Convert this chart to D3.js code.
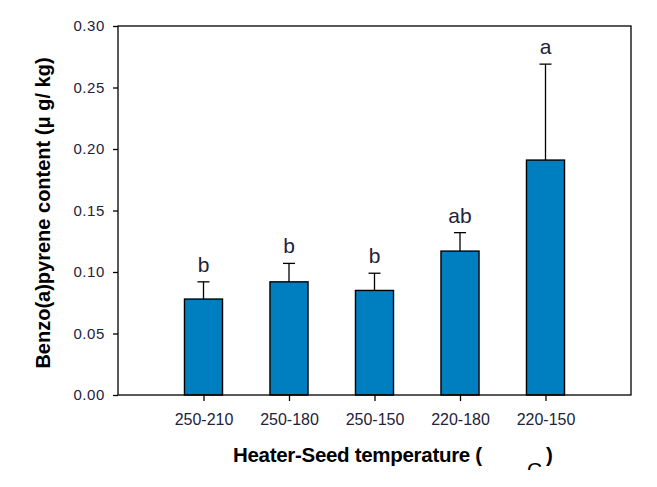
<!DOCTYPE html>
<html><head><meta charset="utf-8">
<script src="https://cdn.jsdelivr.net/npm/d3@7"></script>
<style>body{margin:0;background:#fff}svg{display:block}text{font-family:"Liberation Sans",Arial,sans-serif}</style>
</head><body><svg id="c" width="657" height="487"></svg>
<script>
const categories = ["250-210","250-180","250-150","220-180","220-150"];
const means = [0.078, 0.092, 0.085, 0.117, 0.191];
const errors = [0.014, 0.015, 0.014, 0.015, 0.078];
const letters = ["b","b","b","ab","a"];
const yTicks = [0, 0.05, 0.10, 0.15, 0.20, 0.25, 0.30];

const svg = d3.select("#c");
const L = 118, R = 631, T = 26, B = 395;
const x = d3.scaleLinear().domain([0, 6]).range([L, R]);
const y = d3.scaleLinear().domain([0, 0.30]).range([B, T]);
const bw = x(0.445) - x(0);
const data = categories.map((c, i) => ({c, i: i + 1, m: means[i], e: errors[i], l: letters[i]}));

// bars
svg.selectAll("rect.bar").data(data).enter().append("rect")
  .attr("x", d => x(d.i) - bw / 2).attr("y", d => y(d.m))
  .attr("width", bw).attr("height", d => y(0) - y(d.m))
  .attr("fill", "#007fc0").attr("stroke", "#000").attr("stroke-width", 1.4);

// error bars
const eb = svg.append("g").attr("stroke", "#000").attr("stroke-width", 1.3);
data.forEach(d => {
  eb.append("line").attr("x1", x(d.i)).attr("x2", x(d.i)).attr("y1", y(d.m)).attr("y2", y(d.m + d.e));
  eb.append("line").attr("x1", x(d.i) - 6).attr("x2", x(d.i) + 6).attr("y1", y(d.m + d.e)).attr("y2", y(d.m + d.e));
});

// letters
svg.selectAll("text.let").data(data).enter().append("text")
  .attr("x", d => x(d.i)).attr("y", d => y(d.m + d.e) - 10)
  .attr("text-anchor", "middle").attr("font-size", 21).attr("fill", "#22223a")
  .text(d => d.l);

// frame
svg.append("rect").attr("x", L).attr("y", T).attr("width", R - L).attr("height", B - T)
  .attr("fill", "none").attr("stroke", "#000").attr("stroke-width", 1.3);

// y axis
const ya = svg.append("g").attr("transform", `translate(${L},0)`)
  .call(d3.axisLeft(y).tickValues(yTicks).tickFormat(d3.format(".2f")).tickSize(5).tickPadding(8));
ya.select(".domain").remove();
ya.selectAll("line").attr("stroke", "#000").attr("stroke-width", 1.3);
ya.selectAll("text").attr("font-size", 15).attr("fill", "#22223a").attr("font-family", "Liberation Sans, Arial, sans-serif").attr("letter-spacing", 0.6);

// x axis
const xa = svg.append("g").attr("transform", `translate(0,${B})`)
  .call(d3.axisBottom(x).tickValues(data.map(d => d.i)).tickFormat((d, k) => categories[k]).tickSize(6).tickPadding(13));
xa.select(".domain").remove();
xa.selectAll("line").attr("stroke", "#000").attr("stroke-width", 1.3);
xa.selectAll("text").attr("font-size", 16).attr("fill", "#22223a").attr("font-family", "Liberation Sans, Arial, sans-serif");

// axis titles
svg.append("text").attr("x", 233).attr("y", 462).attr("font-size", 20.5).attr("font-weight", "bold")
  .attr("fill", "#000").attr("letter-spacing", -0.3).text("Heater-Seed temperature (");
svg.append("text").attr("x", 546).attr("y", 462).attr("font-size", 20.5).attr("font-weight", "bold")
  .attr("fill", "#000").text(")");
svg.append("clipPath").attr("id", "cc").append("rect").attr("x", 520).attr("y", 440).attr("width", 40).attr("height", 30);
svg.append("text").attr("x", 527).attr("y", 477).attr("font-size", 21).attr("fill", "#000")
  .attr("clip-path", "url(#cc)").text("C");

svg.append("text").attr("transform", "translate(50,213) rotate(-90)").attr("text-anchor", "middle")
  .attr("font-size", 20).attr("font-weight", "bold").attr("fill", "#000")
  .text("Benzo(a)pyrene content (μ g/ kg)");
</script></body></html>
